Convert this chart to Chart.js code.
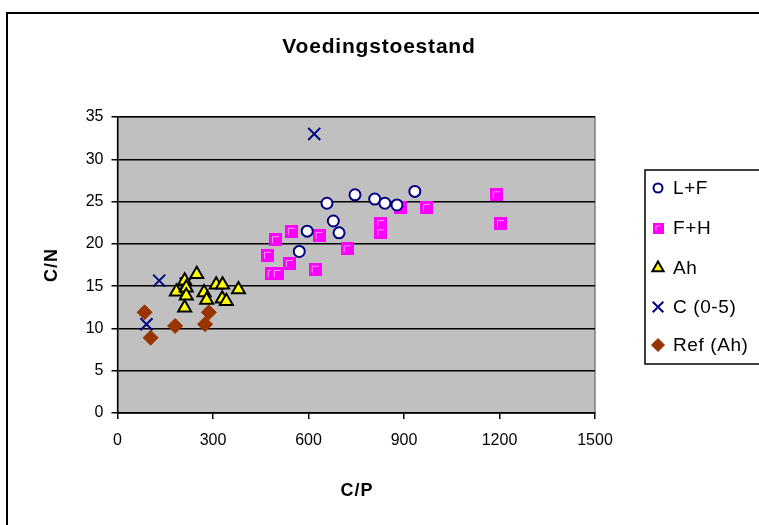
<!DOCTYPE html>
<html>
<head>
<meta charset="utf-8">
<script src="https://cdn.jsdelivr.net/npm/chart.js@4/dist/chart.umd.min.js"></script>
<style>
  html, body { margin: 0; padding: 0; background: #fff; }
  #wrap { width: 759px; height: 525px; }
</style>
</head>
<body>
<div id="wrap"><canvas id="chart" width="759" height="525"></canvas></div>
<script>
// data: [C/P, C/N]
const seriesNames = ['L+F', 'F+H', 'Ah', 'C (0-5)', 'Ref (Ah)'];
const lfPoints = [[571, 19.1], [596, 21.5], [658, 24.8], [678, 22.7], [696, 21.3],
                  [746, 25.8], [808, 25.3], [840, 24.8], [878, 24.6], [934, 26.2]];
const fhPoints = [[471, 18.65], [483, 16.5], [496, 20.5], [502, 16.5], [540, 17.7],
                  [546, 21.5], [621, 17.0], [633, 21.0], [721, 19.4], [827, 22.4],
                  [827, 21.3], [890, 24.3], [971, 24.3], [1190, 25.8], [1203, 22.4]];
const ahPoints = [[185, 14.35], [211, 15.65], [216, 14.8], [216, 13.85], [211, 12.45],
                  [249, 16.4], [272, 14.25], [280, 13.35], [310, 15.15], [330, 15.15],
                  [329, 13.5], [342, 13.2], [380, 14.6]];
const cPoints = [[91, 10.5], [131, 15.65], [214, 15.3], [618, 33.0]];
const refPoints = [[85, 11.9], [104, 8.9], [181, 10.3], [275, 10.5], [287, 11.9]];
const xTicks = [0, 300, 600, 900, 1200, 1500];
const yTicks = [0, 5, 10, 15, 20, 25, 30, 35];

const FONT = '"Liberation Sans", Arial, sans-serif';

// magenta square with the light inner edge, like the original marker
function squareMarker(size) {
    let c = document.createElement('canvas');
    c.width = size; c.height = size;
    let g = c.getContext('2d');
    g.fillStyle = '#FF00FF';
    g.fillRect(0, 0, size, size);
    g.strokeStyle = '#FFA0FF';
    g.lineWidth = 1;
    g.beginPath();
    g.moveTo(3.5, size - 3);
    g.lineTo(3.5, 3.5);
    g.lineTo(size - 3, 3.5);
    g.stroke();
    return c;
}
const sqBig = squareMarker(13);
const sqSmall = squareMarker(11);

function toXY(arr) {
    return arr.map(p => ({ x: p[0], y: p[1] }));
}

const styles = [
    { pointStyle: 'circle', radius: 5.5, backgroundColor: '#FFFFFF', borderColor: '#000080', borderWidth: 2 },
    { pointStyle: sqBig, radius: 6.5, backgroundColor: '#FF00FF', borderColor: '#FF00FF', borderWidth: 0 },
    { pointStyle: 'triangle', radius: 7.5, backgroundColor: '#FFFF00', borderColor: '#000000', borderWidth: 2 },
    { pointStyle: 'crossRot', radius: 8.5, backgroundColor: '#000080', borderColor: '#000080', borderWidth: 2 },
    { pointStyle: 'rectRot', radius: 7.5, backgroundColor: '#993300', borderColor: '#993300', borderWidth: 1 }
];
const legendStyles = [
    { pointStyle: 'circle', radius: 4.5 },
    { pointStyle: sqSmall, radius: 5.5 },
    { pointStyle: 'triangle', radius: 6.5 },
    { pointStyle: 'crossRot', radius: 7.5 },
    { pointStyle: 'rectRot', radius: 6.5 }
];
const allPoints = [lfPoints, fhPoints, ahPoints, cPoints, refPoints];

const datasets = allPoints.map((pts, i) => ({
    label: seriesNames[i],
    data: toXY(pts),
    pointStyle: styles[i].pointStyle,
    pointRadius: styles[i].radius,
    pointHoverRadius: styles[i].radius,
    pointBackgroundColor: styles[i].backgroundColor,
    pointBorderColor: styles[i].borderColor,
    pointBorderWidth: styles[i].borderWidth,
    showLine: false
}));

const excelLook = {
    id: 'excelLook',
    beforeDraw(chart) {
        const ctx = chart.ctx;
        const a = chart.chartArea;
        ctx.save();
        ctx.fillStyle = '#FFFFFF';
        ctx.fillRect(0, 0, chart.width, chart.height);
        // outer frame
        ctx.strokeStyle = '#000000';
        ctx.lineWidth = 2;
        ctx.strokeRect(7, 13, chart.width + 20, chart.height + 20);
        // plot area
        ctx.fillStyle = '#C0C0C0';
        ctx.fillRect(a.left, a.top, a.right - a.left, a.bottom - a.top);
        ctx.strokeStyle = '#808080';
        ctx.lineWidth = 1.5;
        ctx.strokeRect(a.left, a.top, a.right - a.left, a.bottom - a.top);
        ctx.restore();
    },
    afterDraw(chart) {
        const ctx = chart.ctx;
        ctx.save();
        ctx.fillStyle = '#000000';
        ctx.textAlign = 'center';
        ctx.textBaseline = 'middle';
        ctx.letterSpacing = '0.8px';
        ctx.font = 'bold 21px ' + FONT;
        ctx.fillText('Voedingstoestand', 379, 47);
        ctx.letterSpacing = '1px';
        ctx.font = 'bold 18px ' + FONT;
        ctx.fillText('C/P', 357, 491);
        ctx.save();
        ctx.translate(52, 265);
        ctx.rotate(-Math.PI / 2);
        ctx.fillText('C/N', 0, 0);
        ctx.restore();

        // legend box
        ctx.strokeStyle = '#000000';
        ctx.lineWidth = 1.5;
        ctx.strokeRect(645, 170, 140, 194);
        ctx.textAlign = 'left';
        ctx.letterSpacing = '0.6px';
        ctx.font = '19px ' + FONT;
        const rows = [188, 228, 268, 307, 345];
        seriesNames.forEach((name, i) => {
            ctx.fillStyle = styles[i].backgroundColor;
            ctx.strokeStyle = styles[i].borderColor;
            ctx.lineWidth = styles[i].borderWidth || 1;
            Chart.helpers.drawPoint(ctx, {
                pointStyle: legendStyles[i].pointStyle,
                radius: legendStyles[i].radius,
                borderWidth: styles[i].borderWidth,
                rotation: 0
            }, 658, rows[i]);
            ctx.fillStyle = '#000000';
            ctx.fillText(name, 673, rows[i] + 1);
        });
        ctx.restore();
    }
};

new Chart(document.getElementById('chart'), {
    type: 'scatter',
    data: { datasets: datasets },
    plugins: [excelLook],
    options: {
        responsive: false,
        animation: false,
        events: [],
        layout: { padding: { left: 0, right: 164, top: 117, bottom: 0 } },
        plugins: {
            legend: { display: false },
            title: { display: false },
            tooltip: { enabled: false }
        },
        scales: {
            x: {
                type: 'linear',
                min: 0,
                max: 1500,
                afterBuildTicks: (s) => { s.ticks = xTicks.map(v => ({ value: v })); },
                afterFit: (s) => { s.height = 112; },
                ticks: { color: '#000000', font: { family: FONT, size: 16 }, padding: 12, maxRotation: 0,
                         callback: (v) => String(v) },
                grid: { drawOnChartArea: false, drawTicks: true, tickLength: 6, color: '#000000', lineWidth: 1.5 },
                border: { color: '#000000', width: 1.5 }
            },
            y: {
                type: 'linear',
                min: 0,
                max: 35,
                afterBuildTicks: (s) => { s.ticks = yTicks.map(v => ({ value: v })); },
                afterFit: (s) => { s.width = 117.5; },
                ticks: { color: '#000000', font: { family: FONT, size: 16 }, padding: 8,
                         callback: (v) => String(v) },
                grid: { color: '#000000', lineWidth: 1.5, tickLength: 6 },
                border: { color: '#000000', width: 1.5 }
            }
        }
    }
});
</script>
</body>
</html>
